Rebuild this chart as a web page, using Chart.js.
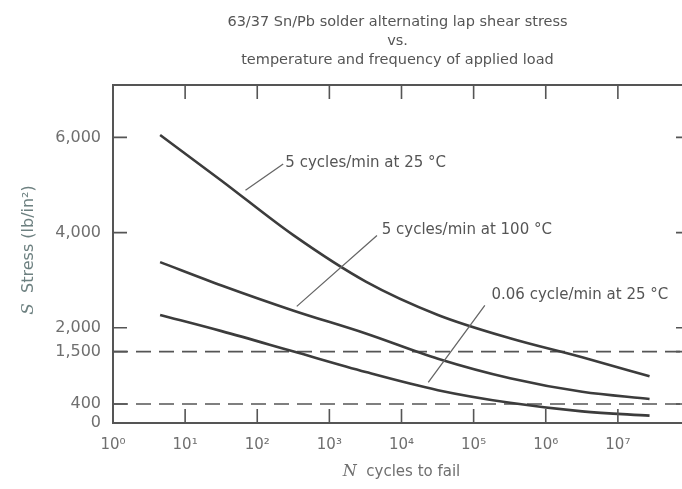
<!DOCTYPE html>
<html>
<head>
<meta charset="utf-8">
<script src="https://cdn.jsdelivr.net/npm/chart.js@4/dist/chart.umd.min.js"></script>
<style>
  html, body { margin: 0; padding: 0; background: #fff; overflow: hidden; }
  #wrap { width: 682px; height: 489px; overflow: hidden; }
  canvas { display: block; }
</style>
</head>
<body>
<div id="wrap"><canvas id="chart" width="720" height="489"></canvas></div>
<script>
// -------- datos --------------------------------
const titleLines = [
  "63/37 Sn/Pb solder alternating lap shear stress",
  "vs.",
  "temperature and frequency of applied load"
];

// N cycles to fail (log)
const cycles = [4.5, 32, 320, 3200, 32000, 320000, 3.2e6, 2.75e7];
// S stress lb/in^2
const stress25  = [6050, 5090, 3940, 2970, 2270, 1780, 1380, 980];
const stress100 = [3380, 2890, 2360, 1880, 1350, 940, 655, 505];
const stressSlow = [2270, 1930, 1500, 1070, 690, 425, 245, 155];

// líneas de referencia discontinuas
const limitLevels = [1500, 400];

const yTickValues = [0, 400, 1500, 2000, 4000, 6000];
const xTickExps = [0, 1, 2, 3, 4, 5, 6, 7];

// etiquetas de curva: texto, inicio de la guía, fin de la guía, posición del texto
const noteText = ["5 cycles/min at 25 \u00B0C", "5 cycles/min at 100 \u00B0C", "0.06 cycle/min at 25 \u00B0C"];
const noteFrom = [[68.7, 4890], [353, 2450], [23500, 855]];
const noteTo   = [[229, 5440], [4570, 3940], [143000, 2470]];
const noteAt   = [[245, 5460], [5320, 4050], [177000, 2680]];

// -------- utilidades ----------
const SUP = { "0": "\u2070", "1": "\u00B9", "2": "\u00B2", "3": "\u00B3", "4": "\u2074",
              "5": "\u2075", "6": "\u2076", "7": "\u2077", "8": "\u2078", "9": "\u2079" };
const pow10Label = (v) => "10" + String(Math.round(Math.log10(v))).split("").map(c => SUP[c]).join("");
const pts = (xs, ys) => xs.map((x, i) => ({ x, y: ys[i] }));

const INK = "#3c3c3c";
const TXT = "#6f6f6f";
const FONT = "'DejaVu Sans', sans-serif";
const SERIF = "'DejaVu Serif', serif";

function curve(data) {
  return {
    data, borderColor: INK, borderWidth: 2.6, pointRadius: 0,
    tension: 0.4, cubicInterpolationMode: "monotone", fill: false
  };
}
function dashed(level) {
  return {
    data: [{ x: 1, y: level }, { x: 1e8, y: level }],
    borderColor: "#555", borderWidth: 1.6, borderDash: [15, 8],
    pointRadius: 0, fill: false
  };
}

// texto con primera letra en cursiva (N, S)
function mixedText(ctx, first, rest, cx, cy, size) {
  ctx.font = `italic ${size + 1}px ${SERIF}`;
  const w1 = ctx.measureText(first).width;
  ctx.font = `${size}px ${FONT}`;
  const w2 = ctx.measureText(rest).width;
  const sx = cx - (w1 + w2) / 2;
  ctx.textAlign = "left";
  ctx.font = `italic ${size + 1}px ${SERIF}`;
  ctx.fillText(first, sx, cy);
  ctx.font = `${size}px ${FONT}`;
  ctx.fillText(rest, sx + w1, cy);
}

// -------- dibujo extra: marco, ticks hacia dentro, textos ----------
const decorPlugin = {
  id: "decor",
  afterDraw(chart) {
    const { ctx, chartArea: a, scales: { x, y } } = chart;
    ctx.save();

    // marco
    ctx.strokeStyle = "#555";
    ctx.lineWidth = 2;
    ctx.strokeRect(a.left, a.top, a.right - a.left, a.bottom - a.top);

    // ticks hacia dentro
    const T = 14;
    ctx.lineWidth = 1.6;
    ctx.beginPath();
    yTickValues.filter(v => v > 0).forEach(v => {
      const py = y.getPixelForValue(v);
      ctx.moveTo(a.left, py); ctx.lineTo(a.left + T, py);
      ctx.moveTo(a.right, py); ctx.lineTo(a.right - T, py);
    });
    xTickExps.filter(e => e > 0).forEach(e => {
      const px = x.getPixelForValue(10 ** e);
      ctx.moveTo(px, a.bottom); ctx.lineTo(px, a.bottom - T);
      ctx.moveTo(px, a.top); ctx.lineTo(px, a.top + T);
    });
    ctx.stroke();

    // guías de las etiquetas
    ctx.strokeStyle = "#666";
    ctx.lineWidth = 1.3;
    ctx.beginPath();
    noteFrom.forEach((f, i) => {
      const t = noteTo[i];
      ctx.moveTo(x.getPixelForValue(f[0]), y.getPixelForValue(f[1]));
      ctx.lineTo(x.getPixelForValue(t[0]), y.getPixelForValue(t[1]));
    });
    ctx.stroke();

    ctx.fillStyle = "#555";
    ctx.font = `15px ${FONT}`;
    ctx.textAlign = "left";
    ctx.textBaseline = "middle";
    noteAt.forEach((p, i) => {
      ctx.fillText(noteText[i], x.getPixelForValue(p[0]), y.getPixelForValue(p[1]));
    });

    // título
    const cx = (a.left + a.right) / 2;
    ctx.fillStyle = "#555";
    ctx.textAlign = "center";
    ctx.font = `14.5px ${FONT}`;
    titleLines.forEach((s, i) => ctx.fillText(s, cx - 4, 22 + i * 19));

    // título eje x:  N cycles to fail
    ctx.fillStyle = TXT;
    mixedText(ctx, "N", "  cycles to fail", cx, 472, 15);

    // título eje y:  S Stress (lb/in²)
    const cy = (a.top + a.bottom) / 2;
    ctx.translate(29, cy - 4);
    ctx.rotate(-Math.PI / 2);
    ctx.fillStyle = "#6d8080";
    mixedText(ctx, "S", "  Stress (lb/in\u00B2)", 0, 0, 16);

    ctx.restore();
  }
};

// -------- Chart.js ----------
new Chart(document.getElementById("chart"), {
  type: "line",
  data: {
    datasets: [
      curve(pts(cycles, stress25)),
      curve(pts(cycles, stress100)),
      curve(pts(cycles, stressSlow)),
      ...limitLevels.map(dashed)
    ]
  },
  options: {
    responsive: false,
    animation: false,
    layout: { padding: { top: 85, right: 30, left: 0, bottom: 0 } },
    plugins: { legend: { display: false }, tooltip: { enabled: false }, title: { display: false } },
    scales: {
      x: {
        type: "logarithmic", min: 1, max: 1e8,
        grid: { display: false }, border: { display: false },
        afterBuildTicks: (s) => { s.ticks = xTickExps.map(e => ({ value: 10 ** e })); },
        afterFit: (s) => { s.height = 66; },
        ticks: {
          autoSkip: false, maxRotation: 0, padding: 5,
          color: TXT, font: { family: FONT, size: 15 },
          callback: (v) => pow10Label(v)
        }
      },
      y: {
        type: "linear", min: 0, max: 7100,
        grid: { display: false }, border: { display: false },
        afterBuildTicks: (s) => { s.ticks = yTickValues.map(v => ({ value: v })); },
        afterFit: (s) => { s.width = 113; },
        ticks: {
          autoSkip: false, padding: 4,
          color: TXT, font: { family: FONT, size: 16 },
          callback: (v) => v.toLocaleString("en-US")
        }
      }
    }
  },
  plugins: [decorPlugin]
});
</script>
</body>
</html>
